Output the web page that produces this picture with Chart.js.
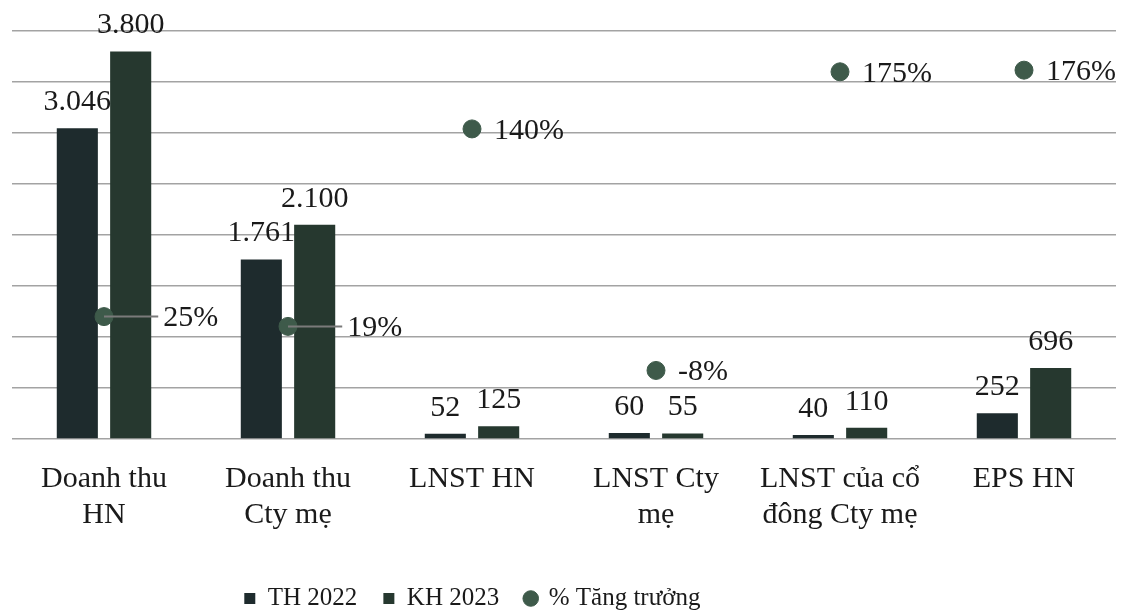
<!DOCTYPE html>
<html>
<head>
<meta charset="utf-8">
<script src="https://cdn.jsdelivr.net/npm/chart.js@4"></script>
<style>
  html, body { margin: 0; padding: 0; background: #fff; }
  #wrap { width: 1138px; height: 612px; }
</style>
</head>
<body>
<div id="wrap"><canvas id="graphchart"></canvas></div>
<script>
var categories = [
    ['Doanh thu', 'HN'],
    ['Doanh thu', 'Cty mẹ'],
    'LNST HN',
    ['LNST Cty', 'mẹ'],
    ['LNST của cổ', 'đông Cty mẹ'],
    'EPS HN'
]
var th2022 = [3046, 1761, 52, 60, 40, 252]
var kh2023 = [3800, 2100, 125, 55, 110, 696]
var tangTruong = [25, 19, 140, -8, 175, 176]

var FONT = '"Liberation Serif", "Times New Roman", serif'

function fmt(v) {
    return v.toLocaleString('de-DE')
}

// labels above bars and next to the growth points
var labelPlugin = {
    id: 'labels',
    afterDatasetsDraw: function (chart) {
        var ctx = chart.ctx
        ctx.save()
        ctx.font = '30px ' + FONT
        ctx.fillStyle = '#1a1a1a'
        ctx.textBaseline = 'alphabetic'
        ctx.textAlign = 'center'
        ;[0, 1].forEach(function (di) {
            chart.getDatasetMeta(di).data.forEach(function (bar, i) {
                ctx.fillText(fmt(chart.data.datasets[di].data[i]), bar.x, bar.y - 18)
            })
        })
        ctx.textBaseline = 'middle'
        ctx.textAlign = 'left'
        var kh = chart.getDatasetMeta(1).data
        chart.getDatasetMeta(2).data.forEach(function (pt, i) {
            var txt = tangTruong[i] + '%'
            var right = kh[i].x + kh[i].width / 2
            var lx = pt.x + 22
            if (kh[i].y < pt.y) {
                // point sits on the bars: push label past them with a leader line
                lx = right + 12
                ctx.strokeStyle = '#7a7a7a'
                ctx.lineWidth = 2
                ctx.beginPath()
                ctx.moveTo(pt.x, pt.y)
                ctx.lineTo(lx - 5, pt.y)
                ctx.stroke()
            }
            ctx.fillText(txt, lx, pt.y + 2)
        })
        ctx.restore()
    }
}

// legend sits a bit lower and left of centre in the original
var legendShift = {
    id: 'legendShift',
    afterLayout: function (chart) {
        var lg = chart.legend
        lg.left -= 76; lg.right -= 76
        lg.top += 13; lg.bottom += 13
    }
}

function showgraphic() {
    var ctx = document.getElementById("graphchart")

    new Chart(ctx, {
        type: 'bar',
        data: {
            labels: categories,
            datasets: [{
                label: 'TH 2022',
                data: th2022,
                backgroundColor: '#1e2b2d',
                yAxisID: 'y',
                categoryPercentage: 0.58,
                barPercentage: 0.77,
                pointStyle: 'rect',
                order: 2
            }, {
                label: 'KH 2023',
                data: kh2023,
                backgroundColor: '#26382f',
                yAxisID: 'y',
                categoryPercentage: 0.58,
                barPercentage: 0.77,
                pointStyle: 'rect',
                order: 2
            }, {
                type: 'line',
                label: '% Tăng trưởng',
                data: tangTruong,
                yAxisID: 'y1',
                showLine: false,
                pointStyle: 'circle',
                pointRadius: 9,
                pointHoverRadius: 9,
                backgroundColor: '#3e5a4a',
                borderColor: '#3e5a4a',
                order: 1
            }]
        },
        options: {
            responsive: true,
            maintainAspectRatio: false,
            animation: false,
            layout: {
                padding: { top: 31, left: 12, right: 22, bottom: 4 }
            },
            scales: {
                x: {
                    grid: { display: false },
                    border: { display: false },
                    ticks: {
                        color: '#1a1a1a',
                        font: { family: FONT, size: 30 },
                        padding: 14,
                        maxRotation: 0,
                        autoSkip: false
                    }
                },
                y: {
                    min: 0,
                    max: 4000,
                    ticks: { display: false, stepSize: 500 },
                    border: { display: false },
                    grid: { color: '#a3a3a3', lineWidth: 1.6, drawTicks: false }
                },
                y1: {
                    display: false,
                    min: -50,
                    max: 200
                }
            },
            plugins: {
                tooltip: { enabled: false },
                legend: {
                    position: "bottom",
                    labels: {
                        usePointStyle: true,
                        boxWidth: 11,
                        boxHeight: 11,
                        color: '#1a1a1a',
                        font: { family: FONT, size: 25 },
                        padding: 26,
                        sort: function (a, b) { return a.datasetIndex - b.datasetIndex },
                        generateLabels: function (chart) {
                            var items = Chart.defaults.plugins.legend.labels.generateLabels(chart)
                            items[0].text += '\u00a0\u00a0\u00a0\u00a0\u00a0'
                            return items
                        }
                    }
                }
            }
        },
        plugins: [labelPlugin, legendShift]
    });
}

document.addEventListener("DOMContentLoaded", showgraphic);
</script>
</body>
</html>
